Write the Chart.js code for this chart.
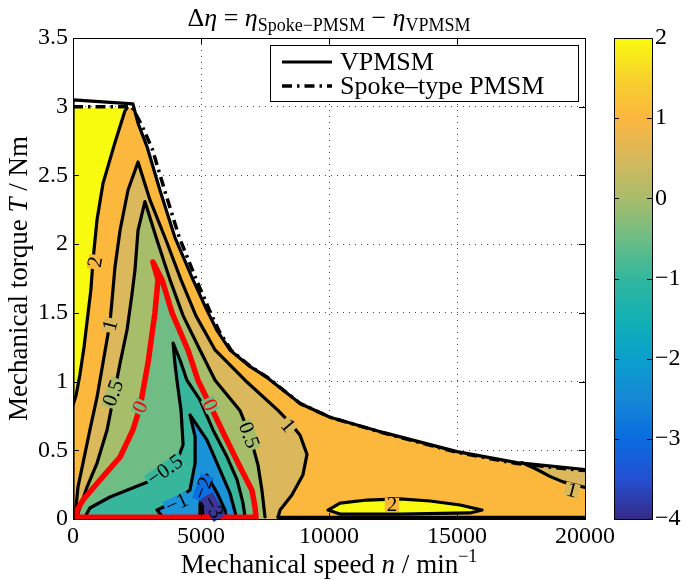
<!DOCTYPE html>
<html lang="en">
<head>
<meta charset="UTF-8">
<title>Efficiency difference map</title>
<script src="https://cdn.jsdelivr.net/npm/chart.js"></script>
<style>
  html, body { margin: 0; padding: 0; background: #fff; }
  #wrap { position: relative; width: 683px; height: 580px; }
</style>
</head>
<body>
<div id="wrap"><canvas id="map" width="683" height="580"></canvas></div>
<script>
// ---- axis ticks ----
const speedTicks = [0, 5000, 10000, 15000, 20000];
const torqueTicks = [0, 0.5, 1, 1.5, 2, 2.5, 3, 3.5];
const colorTicks = [-4, -3, -2, -1, 0, 1, 2];

// ---- operating limits, points are [speed in 1/min, torque in Nm] ----
const vpmsmLimit = [[0, 0], [0, 3.05], [2340, 3.02], [2540, 2.88], [2890, 2.71], [3400, 2.39], [3980, 2.05],
  [4690, 1.74], [5230, 1.52], [5630, 1.37], [6130, 1.23], [6910, 1.11], [7580, 1.03], [8870, 0.84],
  [10040, 0.74], [12110, 0.63], [15000, 0.49], [17340, 0.41], [20000, 0.36]];
const spokeLimit = [[0, 3.0], [2300, 3.0], [2700, 2.86], [3100, 2.69], [3600, 2.38], [4150, 2.05], [4820, 1.74],
  [5330, 1.52], [5700, 1.37], [6170, 1.23], [6930, 1.11], [7600, 1.03], [8880, 0.84], [10050, 0.74],
  [12110, 0.627], [15000, 0.485], [17340, 0.403], [20000, 0.352]];

// ---- contour lines of the efficiency difference ----
const contour2Left = [[2110, 2.99], [2030, 2.97], [1640, 2.74], [1170, 2.44], [940, 2.18], [780, 1.88], [700, 1.67],
  [590, 1.50], [430, 1.25], [270, 1.05], [120, 0.90], [0, 0.83]];
const contour2Island = [[9960, 0.065], [10430, 0.116], [11480, 0.138], [12770, 0.146], [13950, 0.131], [15120, 0.102],
  [15980, 0.065], [15510, 0.044], [12770, 0.036], [10430, 0.036], [9960, 0.065]];
const contour1 = [[80, 0.015], [195, 0.233], [390, 0.407], [660, 0.648], [940, 0.888], [1170, 1.135], [1445, 1.43],
  [1560, 1.666], [1640, 1.834], [1840, 2.103], [2150, 2.394], [2540, 2.598], [3010, 2.32], [3630, 2.03],
  [4220, 1.74], [4800, 1.48], [5550, 1.23], [6720, 1.01], [8010, 0.79], [8480, 0.70], [8870, 0.61],
  [9140, 0.47], [8980, 0.32], [8550, 0.175], [8090, 0.065], [8010, 0.015]];
const contour1Right = [[17540, 0.41], [18125, 0.36], [18630, 0.31], [19140, 0.27], [20000, 0.23]];
const contour1Floor = [[8010, 0.012], [20000, 0.012]];
const contour05 = [[160, 0.015], [195, 0.044], [550, 0.233], [940, 0.407], [1330, 0.648], [1560, 0.866], [1840, 1.135],
  [2110, 1.375], [2300, 1.63], [2420, 1.81], [2540, 2.10], [2810, 2.31], [3280, 2.03], [3790, 1.74],
  [4300, 1.48], [4960, 1.23], [5550, 1.01], [6520, 0.79], [6910, 0.61], [7230, 0.39], [7380, 0.21], [7500, 0.015]];
const contour0 = [[78, 0.012], [156, 0.065], [390, 0.138], [1055, 0.284], [1840, 0.451], [2340, 0.648], [2620, 0.815],
  [2930, 1.135], [3200, 1.50], [3320, 1.74], [3125, 1.87], [3480, 1.74], [3870, 1.50], [4490, 1.23],
  [4880, 1.01], [5350, 0.83], [5940, 0.60], [6520, 0.38], [6990, 0.21], [7110, 0.087], [7150, 0.012], [78, 0.012]];
const contourM05 = [[470, 0.015], [660, 0.08], [1445, 0.16], [2420, 0.233], [3010, 0.277], [3590, 0.357], [4100, 0.44],
  [4300, 0.54], [4220, 0.79], [4060, 1.01], [3980, 1.135], [3910, 1.28], [4180, 1.157], [4450, 1.01],
  [4960, 0.866], [5470, 0.648], [6020, 0.451], [6410, 0.284], [6640, 0.116], [6720, 0.015]];
const contourM1 = [[3500, 0.015], [3280, 0.065], [3790, 0.109], [4180, 0.16], [4570, 0.211], [4770, 0.407],
  [4770, 0.597], [4570, 0.757], [5230, 0.575], [5740, 0.357], [6130, 0.189], [6330, 0.051], [6370, 0.015]];
const contourM2 = [[4960, 0.015], [4960, 0.10], [5040, 0.211], [5230, 0.32], [5630, 0.189], [5940, 0.065], [5980, 0.015]];
const contourM3 = [[5080, 0.015], [5050, 0.08], [5200, 0.17], [5500, 0.12], [5800, 0.04], [5780, 0.015]];

// ---- inline contour labels ----
const labelText = ['2', '1', '0.5', '0', '0', '0.5', '1', '\u22120.5', '\u22121', '\u22122', '\u22123', '2', '1'];
const labelLevel = [2, 1, 0.5, 0, 0, 0.5, 1, -0.5, -1, -2, -3, 2, 1];
const labelAt = [[860, 1.87], [1445, 1.41], [1560, 0.917], [2620, 0.815], [5350, 0.83], [6880, 0.61], [8400, 0.68],
  [3590, 0.357], [4060, 0.116], [5080, 0.225], [5470, 0.087], [12460, 0.102], [19490, 0.211]];
const labelAngle = [-80, -75, -70, -65, 65, 70, 50, -35, -25, -70, 60, 0, 15];

// parula-like colour scale from -4 to 2 in steps of 0.5
const colorScale = ['#352a87', '#2450d2', '#0a6ce0', '#1588d6', '#0aa0cd', '#13b0b4', '#32b79e', '#6ebd85',
  '#a9bc6b', '#d6b85c', '#fcb63e', '#f7d22c', '#f9fb0e'];
// fill of the region below each contour level
const belowFill = { '2': '#fbb83d', '1': '#dab85b', '0.5': '#a6bd6a', '0': '#6fbd84', '-0.5': '#37b69c',
  '-1': '#1b93d9', '-2': '#0c6fe0', '-3': '#3a3597' };
const aboveTwo = '#f9fb0e';

const serif = '"Liberation Serif", "Times New Roman", serif';

const xy = arr => arr.map(([x, y]) => ({ x, y }));
const floorClose = arr => arr.concat([[arr[arr.length - 1][0], 0], [arr[0][0], 0]]);

const datasets = [];
function addArea(points, color) {
  datasets.push({ data: xy(points), fill: 'shape', backgroundColor: color, borderWidth: 0, pointRadius: 0 });
}
function addLine(points, color, width, dash, label) {
  datasets.push({
    label: label, data: xy(points), fill: false, borderColor: color, borderWidth: width,
    borderDash: dash || [], borderJoinStyle: 'round', borderCapStyle: dash ? 'butt' : 'round', pointRadius: 0
  });
}

// filled bands, outermost first
const mapArea = vpmsmLimit.map(([n, t]) => [n, Math.min(t, spokeLimit[0][1] - 0.01)]).concat([[20000, 0]]);
addArea(mapArea, belowFill['2']);
addArea(contour2Left.concat([[0, 2.99]]), aboveTwo);
addArea(contour2Island, aboveTwo);
addArea(contour1Right.concat([[20000, 0.36], [17540, 0.41]]), belowFill['1']);
addArea(floorClose(contour1), belowFill['1']);
addArea(floorClose(contour05), belowFill['0.5']);
addArea(contour0, belowFill['0']);
addArea(floorClose(contourM05), belowFill['-0.5']);
addArea(floorClose(contourM1), belowFill['-1']);
addArea(floorClose(contourM2), belowFill['-2']);
addArea(floorClose(contourM3), belowFill['-3']);

// contour lines
[contour2Left, contour2Island, contour1, contour1Right, contour1Floor, contour05,
  contourM05, contourM1, contourM2, contourM3].forEach(c => addLine(c, '#000', 3.2));
addLine(contour0, '#ff0000', 5.5);

// machine limits on top
addLine(spokeLimit, '#000', 3.5, [10, 5, 2.5, 5], 'Spoke\u2013type PMSM');
addLine(vpmsmLimit, '#000', 3.2, null, 'VPMSM');

// later entries must be drawn on top
datasets.forEach((d, i) => { d.order = datasets.length - i; });

function drawRuns(ctx, runs, x, y) {
  let w = 0;
  runs.forEach(r => { ctx.font = r.font; r.w = ctx.measureText(r.t).width; w += r.w; });
  let cx = x - w / 2;
  runs.forEach(r => { ctx.font = r.font; ctx.fillText(r.t, cx, y + (r.dy || 0)); cx += r.w; });
}

const decorations = {
  id: 'decorations',
  afterDatasetsDraw(chart) {
    const { ctx, scales: { x, y } } = chart;
    ctx.save();
    ctx.font = '21px ' + serif;
    ctx.textAlign = 'center';
    ctx.textBaseline = 'middle';
    labelText.forEach((t, i) => {
      const px = x.getPixelForValue(labelAt[i][0]);
      const py = y.getPixelForValue(labelAt[i][1]);
      ctx.save();
      ctx.translate(px, py);
      ctx.rotate(labelAngle[i] * Math.PI / 180);
      const w = ctx.measureText(t).width;
      ctx.fillStyle = belowFill[String(labelLevel[i])];
      ctx.fillRect(-w / 2 - 2, -7, w + 4, 14);
      ctx.fillStyle = labelLevel[i] === 0 ? '#ff0000' : '#000';
      ctx.fillText(t, 0, 1);
      ctx.restore();
    });
    ctx.restore();
  },
  afterDraw(chart) {
    const { ctx, chartArea: a, scales: { x, y, cb } } = chart;
    ctx.save();
    ctx.strokeStyle = '#000';
    ctx.lineWidth = 1;

    // axes box with inward ticks
    ctx.strokeRect(a.left + 0.5, a.top + 0.5, a.right - a.left, a.bottom - a.top);
    ctx.beginPath();
    speedTicks.forEach(v => {
      const px = Math.round(x.getPixelForValue(v)) + 0.5;
      ctx.moveTo(px, a.bottom); ctx.lineTo(px, a.bottom - 6);
      ctx.moveTo(px, a.top); ctx.lineTo(px, a.top + 6);
    });
    torqueTicks.forEach(v => {
      const py = Math.round(y.getPixelForValue(v)) + 0.5;
      ctx.moveTo(a.left, py); ctx.lineTo(a.left + 6, py);
      ctx.moveTo(a.right, py); ctx.lineTo(a.right - 6, py);
    });
    ctx.stroke();

    // colour bar
    const cbLeft = a.right + 29, cbWidth = 38;
    const top = cb.getPixelForValue(2), bottom = cb.getPixelForValue(-4);
    const grad = ctx.createLinearGradient(0, bottom, 0, top);
    colorScale.forEach((c, i) => grad.addColorStop(i / (colorScale.length - 1), c));
    ctx.fillStyle = grad;
    ctx.fillRect(cbLeft, top, cbWidth, bottom - top);
    ctx.strokeRect(cbLeft + 0.5, top + 0.5, cbWidth, bottom - top);
    ctx.beginPath();
    colorTicks.forEach(v => {
      const py = Math.round(cb.getPixelForValue(v)) + 0.5;
      ctx.moveTo(cbLeft, py); ctx.lineTo(cbLeft + 5, py);
      ctx.moveTo(cbLeft + cbWidth, py); ctx.lineTo(cbLeft + cbWidth - 5, py);
    });
    ctx.stroke();

    // legend
    const lx = 270, ly = 45, lw = 308, lh = 56;
    ctx.fillStyle = '#fff';
    ctx.fillRect(lx, ly, lw, lh);
    ctx.strokeRect(lx + 0.5, ly + 0.5, lw, lh);
    const items = chart.data.datasets.filter(d => d.label).reverse();
    items.forEach((d, i) => {
      const ry = ly + 17 + i * 24;
      ctx.save();
      ctx.strokeStyle = d.borderColor;
      ctx.lineWidth = d.borderWidth;
      ctx.setLineDash(d.borderDash);
      ctx.beginPath();
      ctx.moveTo(lx + 12, ry); ctx.lineTo(lx + 62, ry);
      ctx.stroke();
      ctx.restore();
      ctx.fillStyle = '#000';
      ctx.font = '26px ' + serif;
      ctx.textAlign = 'left';
      ctx.textBaseline = 'middle';
      ctx.fillText(d.label, lx + 70, ry + 1);
    });

    // titles
    ctx.fillStyle = '#000';
    ctx.textAlign = 'left';
    ctx.textBaseline = 'alphabetic';
    const big = '26px ' + serif, bigIt = 'italic 26px ' + serif, small = '18px ' + serif;
    drawRuns(ctx, [
      { t: '\u0394', font: big }, { t: '\u03b7', font: bigIt }, { t: ' = ', font: big },
      { t: '\u03b7', font: bigIt }, { t: 'Spoke\u2212PMSM', font: small, dy: 5 }, { t: ' \u2212 ', font: big },
      { t: '\u03b7', font: bigIt }, { t: 'VPMSM', font: small, dy: 5 }
    ], (a.left + a.right) / 2, 26);
    const axisFont = '27px ' + serif, axisIt = 'italic 27px ' + serif;
    drawRuns(ctx, [
      { t: 'Mechanical speed ', font: axisFont }, { t: 'n', font: axisIt }, { t: ' / min', font: axisFont },
      { t: '\u22121', font: small, dy: -11 }
    ], (a.left + a.right) / 2, 573);
    ctx.translate(27, (a.top + a.bottom) / 2);
    ctx.rotate(-Math.PI / 2);
    drawRuns(ctx, [
      { t: 'Mechanical torque ', font: axisFont }, { t: 'T', font: axisIt }, { t: ' / Nm', font: axisFont }
    ], 0, 0);
    ctx.restore();
  }
};

const tickFont = { family: serif, size: 24 };
const minus = v => String(v).replace('-', '\u2212');
// fixed box sizes so the plot area keeps its place
const fixBox = (w, h) => s => {
  if (w) s.width = w;
  if (h) s.height = h;
  s.paddingTop = 0; s.paddingBottom = 0; s.paddingLeft = 0; s.paddingRight = 0;
};

new Chart(document.getElementById('map'), {
  type: 'line',
  data: { datasets: datasets },
  options: {
    responsive: false,
    animation: false,
    events: [],
    devicePixelRatio: 1,
    layout: { padding: { top: 38, left: 0, right: 0, bottom: 0 } },
    plugins: { legend: { display: false }, tooltip: { enabled: false }, title: { display: false } },
    scales: {
      x: {
        type: 'linear', min: 0, max: 20000,
        afterBuildTicks: s => { s.ticks = speedTicks.map(v => ({ value: v })); },
        afterFit: fixBox(0, 61),
        ticks: { font: tickFont, color: '#000', padding: 3, maxRotation: 0, autoSkip: false, callback: v => String(v) },
        grid: { color: 'rgba(0,0,0,0.7)', lineWidth: 1, drawTicks: false },
        border: { display: false, dash: [1, 5] }
      },
      y: {
        type: 'linear', min: 0, max: 3.5,
        afterBuildTicks: s => { s.ticks = torqueTicks.map(v => ({ value: v })); },
        afterFit: fixBox(73, 0),
        ticks: { font: tickFont, color: '#000', padding: 5, autoSkip: false, callback: v => String(v) },
        grid: { color: 'rgba(0,0,0,0.7)', lineWidth: 1, drawTicks: false },
        border: { display: false, dash: [1, 5] }
      },
      cb: {
        type: 'linear', position: 'right', min: -4, max: 2,
        afterBuildTicks: s => { s.ticks = colorTicks.map(v => ({ value: v })); },
        afterFit: fixBox(98, 0),
        ticks: { font: tickFont, color: '#000', padding: 70, autoSkip: false, callback: minus },
        grid: { display: false, drawTicks: false },
        border: { display: false }
      }
    }
  },
  plugins: [decorations]
});
</script>
</body>
</html>
